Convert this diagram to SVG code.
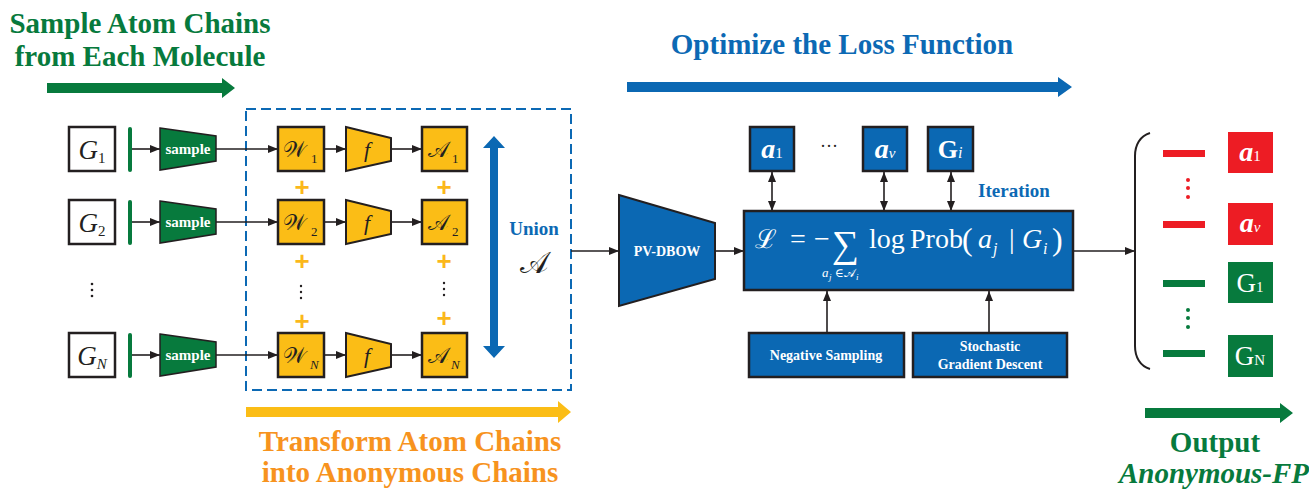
<svg xmlns="http://www.w3.org/2000/svg" width="1309" height="489" viewBox="0 0 1309 489">
<defs>
<marker id="ah" viewBox="0 0 10 10" refX="10" refY="5" markerWidth="10" markerHeight="10" markerUnits="userSpaceOnUse" orient="auto-start-reverse">
<path d="M0,1 L10,5 L0,9 Z" fill="#231f20"/>
</marker>
<style>
.ttl{font-family:"Liberation Serif","Times New Roman",serif;font-weight:bold;font-size:29px}
.gbox{fill:#fff;stroke:#231f20;stroke-width:2.5}
.ybox{fill:#fbbd16;stroke:#231f20;stroke-width:2.5}
.bbox{fill:#0b68b3;stroke:#231f20;stroke-width:2.5}
.grn{fill:#077a3d}
.ser{font-family:"Liberation Serif","DejaVu Serif",serif}
.wb{font-family:"Liberation Serif",serif;font-weight:bold;fill:#fff}
.con{stroke:#231f20;stroke-width:1.6;fill:none}
.plus{font-family:"Liberation Sans",sans-serif;font-weight:bold;font-size:26px;fill:#fbb81b;text-anchor:middle}
.dot{fill:#231f20}
</style>
</defs>
<rect width="1309" height="489" fill="#fff"/>

<!-- titles and stage arrows -->
<g id="title-sample">
<text class="ttl" x="140" y="33" text-anchor="middle" fill="#077a3d">Sample Atom Chains</text>
<text class="ttl" x="140" y="66" text-anchor="middle" fill="#077a3d">from Each Molecule</text>
<path d="M47,83 H222 V78 L235,88 L222,98 V93 H47 Z" fill="#077a3d"/>
</g>
<g id="title-optimize">
<text class="ttl" x="842" y="54" text-anchor="middle" fill="#0c69b4">Optimize the Loss Function</text>
<path d="M627,82 H1058 V77 L1072,87 L1058,97 V92 H627 Z" fill="#0b68b3"/>
</g>
<g id="title-transform">
<path d="M246,407 H558 V401 L571,412 L558,423 V417 H246 Z" fill="#fbbd16"/>
<text class="ttl" x="410" y="451" text-anchor="middle" fill="#f7931e">Transform Atom Chains</text>
<text class="ttl" x="410" y="482" text-anchor="middle" fill="#f7931e">into Anonymous Chains</text>
</g>
<g id="title-output">
<path d="M1145,408 H1280 V403 L1293,413 L1280,423 V418 H1145 Z" fill="#077a3d"/>
<text class="ttl" x="1215" y="452" text-anchor="middle" fill="#077a3d">Output</text>
<text class="ttl" x="1214" y="483" text-anchor="middle" fill="#077a3d" font-style="italic">Anonymous-FP</text>
</g>

<!-- dashed transform region -->
<g id="region-transform">
<rect x="246" y="109" width="325" height="281" fill="none" stroke="#0c69b4" stroke-width="2" stroke-dasharray="10,5"/>
</g>

<!-- connectors -->
<g id="connectors">
<line class="con" x1="132" y1="149" x2="160" y2="149" marker-end="url(#ah)"/>
<line class="con" x1="216" y1="149" x2="278" y2="149" marker-end="url(#ah)"/>
<line class="con" x1="324" y1="149" x2="346" y2="149" marker-end="url(#ah)"/>
<line class="con" x1="391" y1="149" x2="422" y2="149" marker-end="url(#ah)"/>
<line class="con" x1="132" y1="222" x2="160" y2="222" marker-end="url(#ah)"/>
<line class="con" x1="216" y1="222" x2="278" y2="222" marker-end="url(#ah)"/>
<line class="con" x1="324" y1="222" x2="346" y2="222" marker-end="url(#ah)"/>
<line class="con" x1="391" y1="222" x2="422" y2="222" marker-end="url(#ah)"/>
<line class="con" x1="132" y1="355" x2="160" y2="355" marker-end="url(#ah)"/>
<line class="con" x1="216" y1="355" x2="278" y2="355" marker-end="url(#ah)"/>
<line class="con" x1="324" y1="355" x2="346" y2="355" marker-end="url(#ah)"/>
<line class="con" x1="391" y1="355" x2="422" y2="355" marker-end="url(#ah)"/>
<line class="con" x1="571" y1="251" x2="619" y2="251" marker-end="url(#ah)"/>
<line class="con" x1="715" y1="251" x2="744" y2="251" marker-end="url(#ah)"/>
<line class="con" x1="772" y1="172" x2="772" y2="211" marker-start="url(#ah)" marker-end="url(#ah)"/>
<line class="con" x1="884" y1="172" x2="884" y2="211" marker-start="url(#ah)" marker-end="url(#ah)"/>
<line class="con" x1="951" y1="172" x2="951" y2="211" marker-start="url(#ah)" marker-end="url(#ah)"/>
<line class="con" x1="827" y1="333" x2="827" y2="291" marker-end="url(#ah)"/>
<line class="con" x1="989" y1="333" x2="989" y2="291" marker-end="url(#ah)"/>
<line class="con" x1="1073" y1="251" x2="1135" y2="251" marker-end="url(#ah)"/>
<path d="M1150,133 C1140,136 1135,145 1135,156 L1135,346 C1135,357 1140,366 1150,369" fill="none" stroke="#231f20" stroke-width="2"/>
<!-- union double arrow -->
<path d="M494,136 L505,148 L498,148 L498,346 L505,346 L494,358 L483,346 L490,346 L490,148 L483,148 Z" fill="#0b68b3"/>
</g>

<!-- molecules -->
<g id="G1">
<rect class="gbox" x="69" y="127" width="46" height="44"/>
<text class="ser" x="92" y="159" text-anchor="middle" font-size="27" fill="#231f20"><tspan font-style="italic">G</tspan><tspan font-size="15" dy="4">1</tspan></text>
<rect class="grn" x="128" y="127" width="4" height="45" rx="2"/>
</g>
<g id="G2">
<rect class="gbox" x="69" y="200" width="46" height="44"/>
<text class="ser" x="92" y="232" text-anchor="middle" font-size="27" fill="#231f20"><tspan font-style="italic">G</tspan><tspan font-size="15" dy="4">2</tspan></text>
<rect class="grn" x="128" y="200" width="4" height="45" rx="2"/>
</g>
<g id="GN">
<rect class="gbox" x="69" y="333" width="46" height="44"/>
<text class="ser" x="92" y="365" text-anchor="middle" font-size="27" fill="#231f20"><tspan font-style="italic">G</tspan><tspan font-size="15" dy="4" font-style="italic">N</tspan></text>
<rect class="grn" x="128" y="333" width="4" height="45" rx="2"/>
</g>
<g id="dots-G">
<circle class="dot" cx="92" cy="284" r="1.3"/><circle class="dot" cx="92" cy="290" r="1.3"/><circle class="dot" cx="92" cy="296" r="1.3"/>
</g>

<!-- sample trapezoids -->
<g id="sample1">
<path d="M160,128 L216,136 L216,161 L160,170 Z" fill="#077a3d" stroke="#231f20" stroke-width="1.5"/>
<text class="wb" x="188" y="154" text-anchor="middle" font-size="15">sample</text>
</g>
<g id="sample2">
<path d="M160,201 L216,209 L216,234 L160,243 Z" fill="#077a3d" stroke="#231f20" stroke-width="1.5"/>
<text class="wb" x="188" y="227" text-anchor="middle" font-size="15">sample</text>
</g>
<g id="sampleN">
<path d="M160,334 L216,342 L216,367 L160,376 Z" fill="#077a3d" stroke="#231f20" stroke-width="1.5"/>
<text class="wb" x="188" y="360" text-anchor="middle" font-size="15">sample</text>
</g>

<!-- W boxes -->
<g id="W1">
<rect class="ybox" x="278" y="127" width="46" height="44"/>
<text class="ser" x="283" y="157" font-size="22" fill="#231f20">𝒲</text>
<text class="ser" x="311" y="163" font-size="13" fill="#231f20">1</text>
</g>
<g id="W2">
<rect class="ybox" x="278" y="200" width="46" height="44"/>
<text class="ser" x="283" y="230" font-size="22" fill="#231f20">𝒲</text>
<text class="ser" x="311" y="236" font-size="13" fill="#231f20">2</text>
</g>
<g id="WN">
<rect class="ybox" x="278" y="333" width="46" height="44"/>
<text class="ser" x="283" y="363" font-size="22" fill="#231f20">𝒲</text>
<text class="ser" x="310" y="369" font-size="13" font-style="italic" fill="#231f20">N</text>
</g>

<!-- f trapezoids -->
<g id="f1">
<path d="M346,127 L391,138 L391,161 L346,171 Z" fill="#fbbd16" stroke="#231f20" stroke-width="2"/>
<text class="ser" x="367" y="157" text-anchor="middle" font-size="22" font-style="italic" fill="#231f20">f</text>
</g>
<g id="f2">
<path d="M346,200 L391,211 L391,234 L346,244 Z" fill="#fbbd16" stroke="#231f20" stroke-width="2"/>
<text class="ser" x="367" y="230" text-anchor="middle" font-size="22" font-style="italic" fill="#231f20">f</text>
</g>
<g id="fN">
<path d="M346,333 L391,344 L391,367 L346,377 Z" fill="#fbbd16" stroke="#231f20" stroke-width="2"/>
<text class="ser" x="367" y="363" text-anchor="middle" font-size="22" font-style="italic" fill="#231f20">f</text>
</g>

<!-- A boxes -->
<g id="A1">
<rect class="ybox" x="422" y="127" width="45" height="44"/>
<text class="ser" x="428" y="157" font-size="22" fill="#231f20">𝒜</text>
<text class="ser" x="452" y="163" font-size="13" fill="#231f20">1</text>
</g>
<g id="A2">
<rect class="ybox" x="422" y="200" width="45" height="44"/>
<text class="ser" x="428" y="230" font-size="22" fill="#231f20">𝒜</text>
<text class="ser" x="452" y="236" font-size="13" fill="#231f20">2</text>
</g>
<g id="AN">
<rect class="ybox" x="422" y="333" width="45" height="44"/>
<text class="ser" x="428" y="363" font-size="22" fill="#231f20">𝒜</text>
<text class="ser" x="451" y="369" font-size="13" font-style="italic" fill="#231f20">N</text>
</g>

<!-- plus signs and dots -->
<g id="plus-signs">
<text class="plus" x="302" y="196">+</text>
<text class="plus" x="302" y="270">+</text>
<text class="plus" x="302" y="330">+</text>
<text class="plus" x="444" y="196">+</text>
<text class="plus" x="444" y="270">+</text>
<text class="plus" x="444" y="327">+</text>
<circle class="dot" cx="301" cy="286" r="1.2"/><circle class="dot" cx="301" cy="292" r="1.2"/><circle class="dot" cx="301" cy="298" r="1.2"/>
<circle class="dot" cx="444" cy="283" r="1.2"/><circle class="dot" cx="444" cy="289" r="1.2"/><circle class="dot" cx="444" cy="295" r="1.2"/>
</g>

<!-- union label -->
<g id="union">
<text x="534" y="235" text-anchor="middle" font-family="Liberation Serif,serif" font-weight="bold" font-size="19" fill="#0c69b4">Union</text>
<text class="ser" x="534" y="273" text-anchor="middle" font-size="30" fill="#231f20">𝒜</text>
</g>

<!-- PV-DBOW -->
<g id="pvdbow">
<path d="M619,195 L715,223 L715,279 L619,306 Z" fill="#0b68b3" stroke="#231f20" stroke-width="2"/>
<text class="wb" x="667" y="256" text-anchor="middle" font-size="14">PV-DBOW</text>
</g>

<!-- top parameter boxes -->
<g id="a1">
<rect class="bbox" x="750" y="127" width="44" height="44"/>
<text class="wb" x="772" y="158" text-anchor="middle"><tspan font-size="28" font-style="italic">a</tspan><tspan font-size="15" font-weight="normal">1</tspan></text>
</g>
<text x="829" y="152" text-anchor="middle" font-family="Liberation Serif,serif" font-size="18" fill="#231f20">···</text>
<g id="av">
<rect class="bbox" x="863" y="127" width="44" height="44"/>
<text class="wb" x="885" y="158" text-anchor="middle"><tspan font-size="28" font-style="italic">a</tspan><tspan font-size="15" font-weight="normal" font-style="italic">v</tspan></text>
</g>
<g id="Gi">
<rect class="bbox" x="928" y="127" width="45" height="44"/>
<text class="wb" x="950" y="158" text-anchor="middle"><tspan font-size="26">G</tspan><tspan font-size="16" font-weight="normal" font-style="italic">i</tspan></text>
</g>
<text x="1014" y="197" text-anchor="middle" font-family="Liberation Serif,serif" font-weight="bold" font-size="19" fill="#0c69b4">Iteration</text>

<!-- loss box -->
<g id="loss">
<rect class="bbox" x="744" y="211" width="329" height="79"/>
<g class="ser" fill="#fff">
<text x="755" y="248" font-size="26">ℒ</text>
<text x="790" y="248" font-size="28">=</text>
<text x="814" y="248" font-size="28">−</text>
<text x="832" y="257" font-size="38">∑</text>
<text x="822" y="277" font-size="13" font-style="italic">a</text>
<text x="829" y="280" font-size="9" font-style="italic">j</text>
<text x="835" y="277" font-size="12">∈</text>
<text x="844" y="277" font-size="12">𝒜</text>
<text x="856" y="280" font-size="9" font-style="italic">i</text>
<text x="869" y="248" font-size="28">log</text>
<text x="910" y="248" font-size="28">Prob</text>
<text x="962" y="250" font-size="32">(</text>
<text x="978" y="248" font-size="28" font-style="italic">a</text>
<text x="993" y="254" font-size="16" font-style="italic">j</text>
<text x="1009" y="248" font-size="28">|</text>
<text x="1022" y="248" font-size="28" font-style="italic">G</text>
<text x="1043" y="254" font-size="16" font-style="italic">i</text>
<text x="1052" y="250" font-size="32">)</text>
</g>
</g>

<!-- bottom optimizer boxes -->
<g id="neg-sampling">
<rect class="bbox" x="749" y="333" width="155" height="44"/>
<text class="wb" x="826" y="360" text-anchor="middle" font-size="14">Negative Sampling</text>
</g>
<g id="sgd">
<rect class="bbox" x="913" y="333" width="154" height="44"/>
<text class="wb" x="990" y="351" text-anchor="middle" font-size="14">Stochastic</text>
<text class="wb" x="990" y="369" text-anchor="middle" font-size="14">Gradient Descent</text>
</g>

<!-- output vectors -->
<g id="out-a1">
<rect x="1163" y="150" width="42" height="7" fill="#ed1c24"/>
<rect x="1228" y="132" width="45" height="41" fill="#ed1c24"/>
<text class="wb" x="1250" y="161" text-anchor="middle"><tspan font-size="28" font-style="italic">a</tspan><tspan font-size="15" font-weight="normal">1</tspan></text>
</g>
<g id="out-dots-red">
<circle cx="1188" cy="180" r="2" fill="#ed1c24"/><circle cx="1188" cy="188" r="2" fill="#ed1c24"/><circle cx="1188" cy="197" r="2" fill="#ed1c24"/>
</g>
<g id="out-av">
<rect x="1163" y="221" width="42" height="7" fill="#ed1c24"/>
<rect x="1228" y="203" width="45" height="42" fill="#ed1c24"/>
<text class="wb" x="1250" y="232" text-anchor="middle"><tspan font-size="28" font-style="italic">a</tspan><tspan font-size="15" font-weight="normal" font-style="italic">v</tspan></text>
</g>
<g id="out-G1">
<rect x="1163" y="280" width="42" height="7" fill="#077a3d"/>
<rect x="1228" y="262" width="45" height="41" fill="#077a3d"/>
<text class="ser" x="1250" y="292" text-anchor="middle" fill="#fff"><tspan font-size="27">G</tspan><tspan font-size="15">1</tspan></text>
</g>
<g id="out-dots-green">
<circle cx="1188" cy="310" r="2" fill="#077a3d"/><circle cx="1188" cy="318" r="2" fill="#077a3d"/><circle cx="1188" cy="327" r="2" fill="#077a3d"/>
</g>
<g id="out-GN">
<rect x="1163" y="350" width="42" height="7" fill="#077a3d"/>
<rect x="1228" y="335" width="45" height="42" fill="#077a3d"/>
<text class="ser" x="1250" y="365" text-anchor="middle" fill="#fff"><tspan font-size="27">G</tspan><tspan font-size="15">N</tspan></text>
</g>
</svg>
